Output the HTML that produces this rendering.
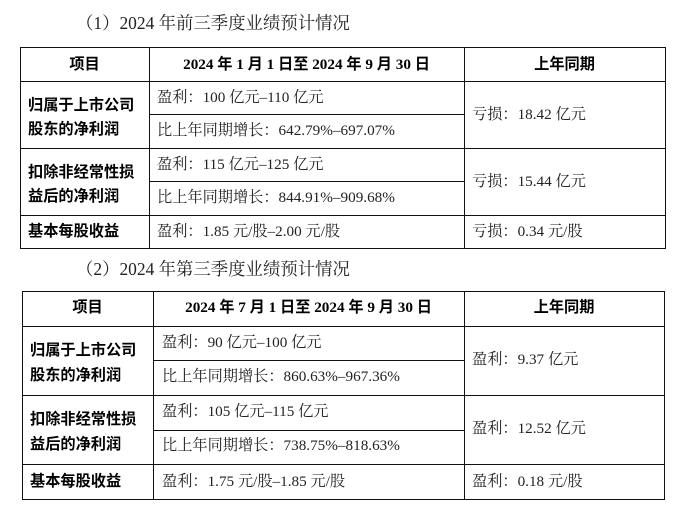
<!DOCTYPE html>
<html><head><meta charset="utf-8"><style>
body{margin:0;width:684px;height:505px;background:#fff;position:relative;overflow:hidden;font-family:"Liberation Serif","Noto Serif CJK SC",serif;color:#222}
.t{position:absolute;left:76px;font-size:17.4px;line-height:20px;white-space:nowrap}
.l{position:absolute;background:#111}
.x{position:absolute;font-size:15.2px;line-height:18px;white-space:nowrap}
.b{font-family:"Liberation Serif","Noto Sans CJK SC",sans-serif;font-weight:bold;color:#000}
.c{text-align:center}
</style></head><body>
<div class="t" style="top:13px">（1）2024 年前三季度业绩预计情况</div>
<div class="l" style="left:20px;top:47px;width:646px;height:1px"></div>
<div class="l" style="left:20px;top:81px;width:646px;height:1px"></div>
<div class="l" style="left:149px;top:114px;width:315px;height:1px"></div>
<div class="l" style="left:20px;top:148px;width:646px;height:1px"></div>
<div class="l" style="left:149px;top:181px;width:315px;height:1px"></div>
<div class="l" style="left:20px;top:215px;width:646px;height:1px"></div>
<div class="l" style="left:20px;top:248px;width:646px;height:1px"></div>
<div class="l" style="left:20px;top:47px;width:1px;height:202px"></div>
<div class="l" style="left:149px;top:47px;width:1px;height:202px"></div>
<div class="l" style="left:464px;top:47px;width:1px;height:202px"></div>
<div class="l" style="left:665px;top:47px;width:1px;height:202px"></div>
<div class="x b c" style="left:20px;width:129px;top:56px">项目</div>
<div class="x b c" style="left:149px;width:315px;top:56px">2024 年 1 月 1 日至 2024 年 9 月 30 日</div>
<div class="x b c" style="left:464px;width:201px;top:56px">上年同期</div>
<div class="x b" style="left:28px;top:94px;line-height:24px">归属于上市公司<br>股东的净利润</div>
<div class="x" style="left:157px;top:89px">盈利：100 亿元–110 亿元</div>
<div class="x" style="left:157px;top:122px">比上年同期增长：642.79%–697.07%</div>
<div class="x" style="left:472px;top:106px">亏损：18.42 亿元</div>
<div class="x b" style="left:28px;top:161px;line-height:24px">扣除非经常性损<br>益后的净利润</div>
<div class="x" style="left:157px;top:156px">盈利：115 亿元–125 亿元</div>
<div class="x" style="left:157px;top:189px">比上年同期增长：844.91%–909.68%</div>
<div class="x" style="left:472px;top:173px">亏损：15.44 亿元</div>
<div class="x b" style="left:28px;top:223px">基本每股收益</div>
<div class="x" style="left:157px;top:223px">盈利：1.85 元/股–2.00 元/股</div>
<div class="x" style="left:472px;top:223px">亏损：0.34 元/股</div>

<div class="t" style="top:259px">（2）2024 年第三季度业绩预计情况</div>
<div class="l" style="left:22px;top:291px;width:643px;height:1px"></div>
<div class="l" style="left:22px;top:326px;width:643px;height:1px"></div>
<div class="l" style="left:153px;top:360px;width:311px;height:1px"></div>
<div class="l" style="left:22px;top:395px;width:643px;height:1px"></div>
<div class="l" style="left:153px;top:430px;width:311px;height:1px"></div>
<div class="l" style="left:22px;top:464px;width:643px;height:1px"></div>
<div class="l" style="left:22px;top:499px;width:643px;height:1px"></div>
<div class="l" style="left:22px;top:291px;width:1px;height:209px"></div>
<div class="l" style="left:153px;top:291px;width:1px;height:209px"></div>
<div class="l" style="left:464px;top:291px;width:1px;height:209px"></div>
<div class="l" style="left:664px;top:291px;width:1px;height:209px"></div>
<div class="x b c" style="left:22px;width:131px;top:299px">项目</div>
<div class="x b c" style="left:153px;width:311px;top:299px">2024 年 7 月 1 日至 2024 年 9 月 30 日</div>
<div class="x b c" style="left:464px;width:200px;top:299px">上年同期</div>
<div class="x b" style="left:30px;top:338px;line-height:25px">归属于上市公司<br>股东的净利润</div>
<div class="x" style="left:162px;top:334px">盈利：90 亿元–100 亿元</div>
<div class="x" style="left:162px;top:368px">比上年同期增长：860.63%–967.36%</div>
<div class="x" style="left:472px;top:351px">盈利：9.37 亿元</div>
<div class="x b" style="left:30px;top:407px;line-height:25px">扣除非经常性损<br>益后的净利润</div>
<div class="x" style="left:162px;top:403px">盈利：105 亿元–115 亿元</div>
<div class="x" style="left:162px;top:437px">比上年同期增长：738.75%–818.63%</div>
<div class="x" style="left:472px;top:420px">盈利：12.52 亿元</div>
<div class="x b" style="left:30px;top:473px">基本每股收益</div>
<div class="x" style="left:162px;top:473px">盈利：1.75 元/股–1.85 元/股</div>
<div class="x" style="left:472px;top:473px">盈利：0.18 元/股</div>
</body></html>
